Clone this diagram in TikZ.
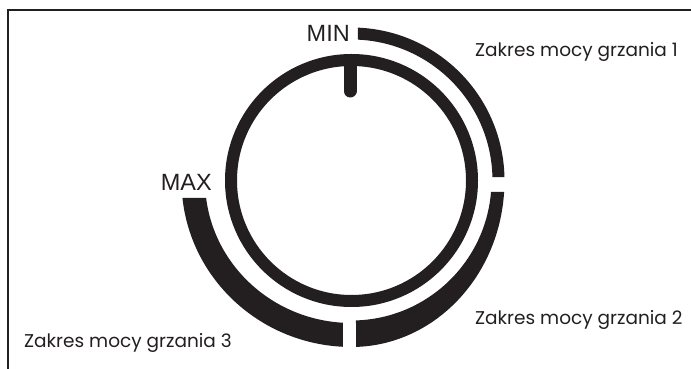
\documentclass[tikz,border=0pt]{standalone}
\usepackage{fontspec}
\setmainfont{Poppins}
\newfontfamily\dialfont{Liberation Sans}
\definecolor{ink}{HTML}{231F20}

\begin{document}
\begin{tikzpicture}[x=1pt,y=1pt,
		ring/.style={draw=ink,line width=12pt},
		band/.style={fill=ink,shift={(c)}},
		rangetext/.style={inner sep=0pt,text=ink,font=\fontsize{18.5}{22}\selectfont},
		dialtext/.style={inner sep=0pt,text=ink,font=\dialfont\fontsize{23.5}{28}\selectfont}]
		\useasboundingbox (0,0) rectangle (691,369);
		\coordinate (c) at (351.5,188.5);
		% frame
		\draw[ink,line width=2pt] (8,0) -- (8,359) -- (691,359);
		% knob
		\draw[ring] (c) circle[radius=120.5];
		\draw[ink,line width=13pt,line cap=round] (350,304) -- (350,278);
		% ranges
		\fill[band] (87.36:141) arc[start angle=87.36,end angle=1.42,radius=141]
			-- (1.31:153) arc[start angle=1.31,end angle=87.57,radius=153] -- cycle;
		\fill[band] (-4.71:140) arc[start angle=-4.71,end angle=-88.16,radius=140]
			-- (-88.31:153 and 166.5) arc[start angle=-88.31,end angle=-3.96,x radius=153,y radius=166.5] -- cycle;
		\fill[band] (-93.33:146.5 and 142.5) arc[start angle=-93.33,end angle=-172.95,x radius=146.5,y radius=142.5]
			-- (-173.97:170 and 166.5) arc[start angle=-173.97,end angle=-92.87,x radius=170,y radius=166.5] -- cycle;
		% labels
		\node[dialtext,anchor=base east] (min) at (350,327) {MIN};
		\node[dialtext,anchor=base east] (max) at (212,178) {MAX};
		\node[rangetext,anchor=base west] (range1) at (475,312) {Zakres mocy grzania 1};
		\node[rangetext,anchor=base west] (range2) at (475,44) {Zakres mocy grzania 2};
		\node[rangetext,anchor=base west] (range3) at (24,21) {Zakres mocy grzania 3};
	\end{tikzpicture}
\end{document}
